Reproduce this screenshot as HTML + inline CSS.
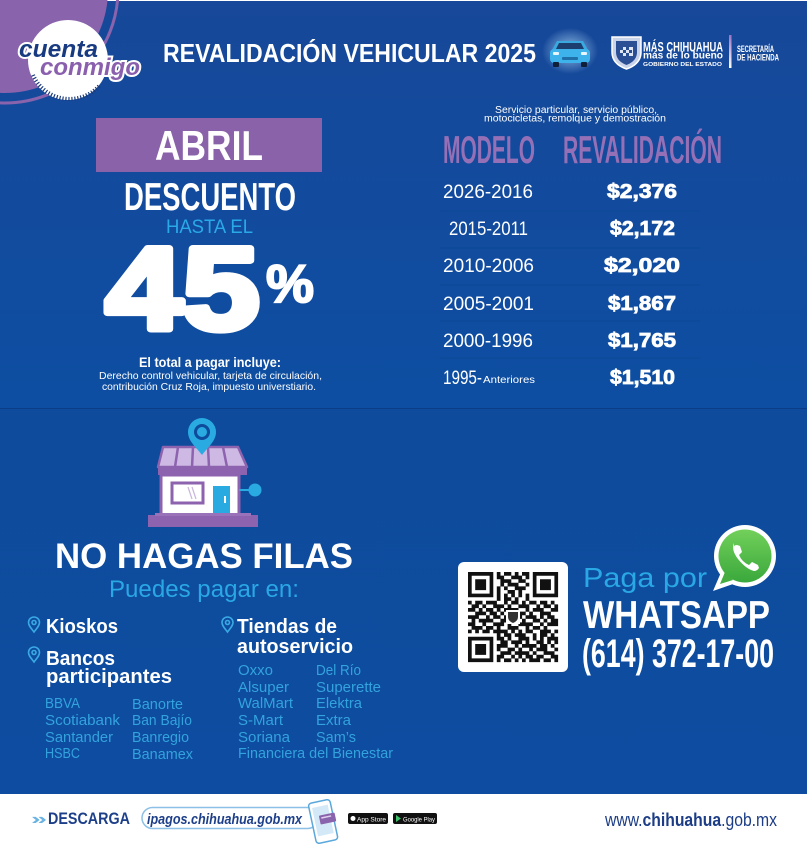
<!DOCTYPE html>
<html><head><meta charset="utf-8"><style>
html,body{margin:0;padding:0;background:#fff;}
svg{display:block;}
text{font-family:"Liberation Sans",Arial,sans-serif;}
</style></head><body>
<svg width="807" height="844" viewBox="0 0 807 844" xmlns="http://www.w3.org/2000/svg">
<defs>
<linearGradient id="topBg" x1="0" y1="0" x2="0" y2="1">
<stop offset="0" stop-color="#174899"/><stop offset="1" stop-color="#0d4ea2"/>
</linearGradient>
<linearGradient id="botBg" x1="0" y1="0" x2="0" y2="1">
<stop offset="0" stop-color="#0e4b9c"/><stop offset="1" stop-color="#0d4ca0"/>
</linearGradient>
<radialGradient id="glow" cx="0.5" cy="0.5" r="0.5">
<stop offset="0" stop-color="#bfe6ff" stop-opacity="0.75"/><stop offset="1" stop-color="#bfe6ff" stop-opacity="0"/>
</radialGradient>
<linearGradient id="wa" x1="0" y1="0" x2="0" y2="1">
<stop offset="0" stop-color="#72d05a"/><stop offset="1" stop-color="#3aa83c"/>
</linearGradient>
<linearGradient id="bar" x1="0" y1="0" x2="0" y2="1">
<stop offset="0" stop-color="#9a72c0"/><stop offset="1" stop-color="#ffffff"/>
</linearGradient>
</defs>

<rect width="807" height="844" fill="#fff"/>
<rect y="1" width="807" height="407" fill="url(#topBg)"/>
<rect y="408" width="807" height="1" fill="#0a3d86"/>
<rect y="409" width="807" height="385" fill="url(#botBg)"/>

<!-- Logo -->
<circle cx="5" cy="-10" r="103" fill="#8a63ad"/>
<circle cx="5" cy="-10" r="113" fill="none" stroke="#8a63ad" stroke-width="3"/>
<circle cx="68" cy="60" r="40" fill="#fff"/>
<path d="M33,75 A40,40 0 0 0 100,85" fill="none" stroke="#1b3a7a" stroke-width="4" stroke-dasharray="1.2 1.8"/>
<text x="19" y="57" font-size="24" font-weight="bold" font-style="italic" fill="#173a80" stroke="#fff" stroke-width="4" paint-order="stroke" textLength="79" lengthAdjust="spacingAndGlyphs">cuenta</text>
<text x="40" y="75" font-size="24" font-weight="bold" font-style="italic" fill="#8a5fad" stroke="#fff" stroke-width="4" paint-order="stroke" textLength="100" lengthAdjust="spacingAndGlyphs">conmigo</text>

<!-- Title -->
<text x="163" y="62" font-size="26" font-weight="bold" fill="#fff" textLength="373" lengthAdjust="spacingAndGlyphs">REVALIDACIÓN VEHICULAR 2025</text>

<!-- Car -->
<ellipse cx="570" cy="51" rx="28" ry="23" fill="url(#glow)"/>
<path d="M557,41 L583,41 L588,50 L552,50 Z" fill="#3aa9e0"/>
<path d="M559,43 L581,43 L584,49 L556,49 Z" fill="#1d3f70"/>
<rect x="550" y="49" width="40" height="14" rx="4" fill="#3eb2ea"/>
<rect x="553" y="52" width="6" height="3" rx="1" fill="#e8f6ff"/>
<rect x="581" y="52" width="6" height="3" rx="1" fill="#e8f6ff"/>
<rect x="562" y="57" width="16" height="3" rx="1" fill="#1f6fa8"/>
<rect x="553" y="62" width="6" height="5" rx="1" fill="#10203a"/>
<rect x="581" y="62" width="6" height="5" rx="1" fill="#10203a"/>

<!-- Gov logo -->
<path d="M612,37 L641,37 L641,52 Q641,64 626.5,69 Q612,64 612,52 Z" fill="#c9d4ea" stroke="#fff" stroke-width="1.5"/>
<path d="M616,41 L637,41 L637,52 Q637,61 626.5,65 Q616,61 616,52 Z" fill="#2b4f94"/>
<rect x="620" y="47" width="13" height="9" fill="#dfe6f3"/>
<path d="M620,47 h3v3h-3zM626,47h3v3h-3zM623,50h3v3h-3zM629,50h3v3h-3zM620,53h3v3h-3zM626,53h3v3h-3z" fill="#2b4f94"/>
<text x="643" y="51.5" font-size="14" font-weight="bold" fill="#fff" textLength="80" lengthAdjust="spacingAndGlyphs">MÁS CHIHUAHUA</text>
<text x="643" y="58.5" font-size="10" font-weight="bold" fill="#fff" textLength="80" lengthAdjust="spacingAndGlyphs">más de lo bueno</text>
<text x="643" y="66" font-size="5.5" font-weight="bold" fill="#fff" textLength="79" lengthAdjust="spacingAndGlyphs">GOBIERNO DEL ESTADO</text>
<rect x="729" y="35" width="2.5" height="33" fill="url(#bar)"/>
<text x="737" y="52" font-size="9" font-weight="bold" fill="#fff" textLength="37" lengthAdjust="spacingAndGlyphs">SECRETARÍA</text>
<text x="737" y="60.5" font-size="9" font-weight="bold" fill="#fff" textLength="42" lengthAdjust="spacingAndGlyphs">DE HACIENDA</text>

<!-- Left promo -->
<rect x="96" y="118" width="226" height="54" fill="#8a62aa"/>
<text x="155" y="160" font-size="42" font-weight="bold" fill="#fff" textLength="108" lengthAdjust="spacingAndGlyphs">ABRIL</text>
<text x="124" y="210" font-size="39" font-weight="bold" fill="#fff" textLength="172" lengthAdjust="spacingAndGlyphs">DESCUENTO</text>
<text x="166" y="233" font-size="19.5" fill="#2aa9e8" textLength="87" lengthAdjust="spacingAndGlyphs">HASTA EL</text>
<text x="105.5" y="329" font-size="117" font-weight="bold" fill="#fff" stroke="#fff" stroke-width="7" stroke-linejoin="round" textLength="154" lengthAdjust="spacingAndGlyphs">45</text>
<text x="266" y="302" font-size="53" font-weight="bold" fill="#fff" stroke="#fff" stroke-width="2" textLength="48" lengthAdjust="spacingAndGlyphs">%</text>
<text x="139" y="367" font-size="13.5" font-weight="bold" fill="#fff" textLength="142" lengthAdjust="spacingAndGlyphs">El total a pagar incluye:</text>
<text x="99" y="379" font-size="10.5" fill="#fff" textLength="223" lengthAdjust="spacingAndGlyphs">Derecho control vehicular, tarjeta de circulación,</text>
<text x="102" y="390" font-size="10.5" fill="#fff" textLength="214" lengthAdjust="spacingAndGlyphs">contribución Cruz Roja, impuesto universtiario.</text>

<!-- Right table -->
<text x="495" y="113" font-size="10" fill="#fff" textLength="162" lengthAdjust="spacingAndGlyphs">Servicio particular, servicio público,</text>
<text x="484" y="121.5" font-size="10" fill="#fff" textLength="182" lengthAdjust="spacingAndGlyphs">motocicletas, remolque y demostración</text>
<text x="443" y="163" font-size="39" font-weight="bold" fill="#9670b6" textLength="92" lengthAdjust="spacingAndGlyphs">MODELO</text>
<text x="563" y="163" font-size="39" font-weight="bold" fill="#9670b6" textLength="159" lengthAdjust="spacingAndGlyphs">REVALIDACIÓN</text>
<g stroke="#0c4896" stroke-width="1">
<line x1="440" y1="211" x2="700" y2="211"/><line x1="440" y1="248" x2="700" y2="248"/>
<line x1="440" y1="285" x2="700" y2="285"/><line x1="440" y1="321" x2="700" y2="321"/>
<line x1="440" y1="358" x2="700" y2="358"/>
</g>
<g font-size="19" fill="#fff">
<text x="443" y="198" textLength="90" lengthAdjust="spacingAndGlyphs">2026-2016</text>
<text x="449" y="235" textLength="79" lengthAdjust="spacingAndGlyphs">2015-2011</text>
<text x="443" y="272" textLength="91" lengthAdjust="spacingAndGlyphs">2010-2006</text>
<text x="443" y="310" textLength="91" lengthAdjust="spacingAndGlyphs">2005-2001</text>
<text x="443" y="347" textLength="90" lengthAdjust="spacingAndGlyphs">2000-1996</text>
<text x="443" y="384" textLength="39" lengthAdjust="spacingAndGlyphs">1995-</text>
<text x="483" y="383" font-size="10" textLength="52" lengthAdjust="spacingAndGlyphs">Anteriores</text>
</g>
<g font-size="20" font-weight="bold" fill="#fff" stroke="#fff" stroke-width="0.8">
<text x="607" y="198" textLength="70" lengthAdjust="spacingAndGlyphs">$2,376</text>
<text x="610" y="235" textLength="65" lengthAdjust="spacingAndGlyphs">$2,172</text>
<text x="604" y="272" textLength="76" lengthAdjust="spacingAndGlyphs">$2,020</text>
<text x="608" y="310" textLength="68" lengthAdjust="spacingAndGlyphs">$1,867</text>
<text x="608" y="347" textLength="68" lengthAdjust="spacingAndGlyphs">$1,765</text>
<text x="610" y="384" textLength="65" lengthAdjust="spacingAndGlyphs">$1,510</text>
</g>

<!-- Store icon -->
<path d="M163,447 L238,447 L247,467 L158,467 Z" fill="#cdb9e4" stroke="#8d62ae" stroke-width="2.5" stroke-linejoin="round"/>
<g stroke="#8d62ae" stroke-width="2.5">
<line x1="178" y1="447" x2="175" y2="467"/><line x1="193" y1="447" x2="192" y2="467"/>
<line x1="208" y1="447" x2="209" y2="467"/><line x1="223" y1="447" x2="227" y2="467"/>
</g>
<rect x="158" y="466" width="89" height="9" fill="#8d62ae"/>
<rect x="161" y="475" width="78" height="40" fill="#fff" stroke="#8d62ae" stroke-width="3"/>
<rect x="172" y="483" width="31" height="20" fill="#fff" stroke="#8d62ae" stroke-width="3"/>
<g stroke="#c8b6dc" stroke-width="1.2"><line x1="188" y1="487" x2="192" y2="499"/><line x1="192" y1="487" x2="196" y2="499"/></g>
<rect x="213" y="486" width="17" height="27" fill="#29abe2"/>
<rect x="224" y="496" width="2" height="7" fill="#fff"/>
<line x1="239" y1="490" x2="249" y2="490" stroke="#29abe2" stroke-width="2"/>
<circle cx="255" cy="490" r="6.5" fill="#29abe2"/>
<rect x="148" y="515" width="110" height="12" fill="#8d62ae"/>
<rect x="155" y="513" width="96" height="3" fill="#9a72ba"/>
<path d="M202,455 C196,447 188,441 188,432 A14,14 0 0 1 216,432 C216,441 208,447 202,455 Z" fill="#29abe2"/>
<circle cx="202" cy="432" r="8" fill="#0e4b9c"/>
<circle cx="202" cy="432" r="5" fill="#29abe2"/>

<!-- No hagas filas -->
<text x="55" y="568" font-size="35" font-weight="bold" fill="#fff" textLength="298" lengthAdjust="spacingAndGlyphs">NO HAGAS FILAS</text>
<text x="109" y="597" font-size="24" fill="#2aa8e5" textLength="190" lengthAdjust="spacingAndGlyphs">Puedes pagar en:</text>

<g fill="none" stroke="#3aa9e3" stroke-width="1.6">
<path d="M34,632 C31,628 28.5,625.5 28.5,622.5 A5.5,5.5 0 0 1 39.5,622.5 C39.5,625.5 37,628 34,632 Z"/><circle cx="34" cy="622.5" r="2"/>
<path d="M34,662 C31,658 28.5,655.5 28.5,652.5 A5.5,5.5 0 0 1 39.5,652.5 C39.5,655.5 37,658 34,662 Z"/><circle cx="34" cy="652.5" r="2"/>
<path d="M227.5,632 C224.5,628 222,625.5 222,622.5 A5.5,5.5 0 0 1 233,622.5 C233,625.5 230.5,628 227.5,632 Z"/><circle cx="227.5" cy="622.5" r="2"/>
</g>
<g font-size="20" font-weight="bold" fill="#fff">
<text x="46" y="633" textLength="72" lengthAdjust="spacingAndGlyphs">Kioskos</text>
<text x="46" y="665" textLength="69" lengthAdjust="spacingAndGlyphs">Bancos</text>
<text x="46" y="683" textLength="126" lengthAdjust="spacingAndGlyphs">participantes</text>
<text x="237" y="633" textLength="100" lengthAdjust="spacingAndGlyphs">Tiendas de</text>
<text x="237" y="653" textLength="116" lengthAdjust="spacingAndGlyphs">autoservicio</text>
</g>
<g font-size="15" fill="#33a3dd">
<text x="45" y="708" textLength="35" lengthAdjust="spacingAndGlyphs">BBVA</text>
<text x="45" y="725" textLength="75" lengthAdjust="spacingAndGlyphs">Scotiabank</text>
<text x="45" y="742" textLength="68" lengthAdjust="spacingAndGlyphs">Santander</text>
<text x="45" y="758" textLength="35" lengthAdjust="spacingAndGlyphs">HSBC</text>
<text x="132" y="709" textLength="51" lengthAdjust="spacingAndGlyphs">Banorte</text>
<text x="132" y="725" textLength="60" lengthAdjust="spacingAndGlyphs">Ban Bajío</text>
<text x="132" y="742" textLength="57" lengthAdjust="spacingAndGlyphs">Banregio</text>
<text x="132" y="759" textLength="61" lengthAdjust="spacingAndGlyphs">Banamex</text>
<text x="238" y="675" textLength="35" lengthAdjust="spacingAndGlyphs">Oxxo</text>
<text x="238" y="692" textLength="51" lengthAdjust="spacingAndGlyphs">Alsuper</text>
<text x="238" y="708" textLength="55" lengthAdjust="spacingAndGlyphs">WalMart</text>
<text x="238" y="725" textLength="45" lengthAdjust="spacingAndGlyphs">S-Mart</text>
<text x="238" y="742" textLength="52" lengthAdjust="spacingAndGlyphs">Soriana</text>
<text x="238" y="758" textLength="155" lengthAdjust="spacingAndGlyphs">Financiera del Bienestar</text>
<text x="316" y="675" textLength="45" lengthAdjust="spacingAndGlyphs">Del Río</text>
<text x="316" y="692" textLength="65" lengthAdjust="spacingAndGlyphs">Superette</text>
<text x="316" y="708" textLength="46" lengthAdjust="spacingAndGlyphs">Elektra</text>
<text x="316" y="725" textLength="35" lengthAdjust="spacingAndGlyphs">Extra</text>
<text x="316" y="742" textLength="40" lengthAdjust="spacingAndGlyphs">Sam’s</text>
</g>

<!-- QR -->
<rect x="458" y="562" width="110" height="110" rx="6" fill="#fff"/>
<path id="qr" fill="#111" d=""/>
<rect x="506" y="610" width="14" height="14" fill="#fff"/>
<path d="M508,612 h10 v5 q0,4 -5,6 q-5,-2 -5,-6 z" fill="#333"/>

<!-- WhatsApp -->
<circle cx="745" cy="556" r="31" fill="#fff"/>
<path d="M722,570 L713,591 L736,583 Z" fill="#fff"/>
<circle cx="745" cy="556" r="26.5" fill="url(#wa)"/>
<path d="M725,572 L720,584 L733,580 Z" fill="#46ad40"/>
<path d="M734,543 q-3,7 4,16 q8,10 16,12 q3,0 5,-3 l-1,-3 l-6,-3 l-3,3 q-7,-3 -10,-10 l3,-3 l-2,-6 l-3,-1 q-2,0 -3,1 z" fill="#fff"/>

<text x="583" y="587" font-size="28" fill="#2aa8e5" textLength="124" lengthAdjust="spacingAndGlyphs">Paga por</text>
<text x="583" y="628" font-size="39" font-weight="bold" fill="#fff" textLength="187" lengthAdjust="spacingAndGlyphs">WHATSAPP</text>
<text x="582" y="667" font-size="40" font-weight="bold" fill="#fff" textLength="192" lengthAdjust="spacingAndGlyphs">(614) 372-17-00</text>

<!-- Footer -->
<text x="31" y="824" font-size="16" font-weight="bold" fill="#6ab3e3" textLength="16" lengthAdjust="spacingAndGlyphs">»</text>
<text x="48" y="824" font-size="17" font-weight="bold" fill="#1d3f8a" textLength="82" lengthAdjust="spacingAndGlyphs">DESCARGA</text>
<rect x="142" y="807.5" width="176" height="21" rx="10.5" fill="#fff" stroke="#8cc0e6" stroke-width="1.5"/>
<text x="147" y="824" font-size="15" font-weight="bold" font-style="italic" fill="#1d3f8a" textLength="155" lengthAdjust="spacingAndGlyphs">ipagos.chihuahua.gob.mx</text>
<g transform="translate(323,821) rotate(-12)">
<rect x="-11" y="-20" width="22" height="41" rx="3" fill="#fff" stroke="#5aa8dc" stroke-width="1.5"/>
<rect x="-8" y="-15" width="16" height="29" fill="#d4e9f8"/>
<rect x="-3" y="-6" width="16" height="9" rx="1" fill="#8a63ad"/>
<rect x="-1" y="-4" width="10" height="1.5" fill="#e0d0ef"/>
</g>
<rect x="348" y="813" width="40" height="11" rx="2" fill="#111"/>
<circle cx="353" cy="818.5" r="2.5" fill="#fff"/>
<text x="357" y="821.5" font-size="6" fill="#fff" textLength="29" lengthAdjust="spacingAndGlyphs">App Store</text>
<rect x="393" y="813" width="44" height="11" rx="2" fill="#111"/>
<path d="M396,815 L401,818.5 L396,822 Z" fill="#3ec26a"/>
<text x="403" y="821.5" font-size="6" fill="#fff" textLength="32" lengthAdjust="spacingAndGlyphs">Google Play</text>

<text x="605" y="826" font-size="18" fill="#1c3d86" textLength="172" lengthAdjust="spacingAndGlyphs">www.<tspan font-weight="bold">chihuahua</tspan>.gob.mx</text>
</svg>
<script>
(function(){
var r=[
"1111111"+"01011010110"+"1111111",
"1000001"+"01100111010"+"1000001",
"1011101"+"00111001100"+"1011101",
"1011101"+"00101110010"+"1011101",
"1011101"+"01010011100"+"1011101",
"1000001"+"01001101000"+"1000001",
"1111111"+"01010101010"+"1111111",
"0000000"+"01011010010"+"0000000",
"1011011100101101011011010",
"0110100111010011100101101",
"1101011010111100101110011",
"0011101101000111010011100",
"1110010110111010111010110",
"0101111001101101001101011",
"1100100111010011110010111",
"0111011010011100101101000",
"1010110111101010110011101",
"00000000"+"10110111001011010",
"1111111"+"0"+"11010011101010111",
"1000001"+"0"+"01101110100110101",
"1011101"+"0"+"11100101111011010",
"1011101"+"0"+"10011010010111001",
"1011101"+"0"+"01110111101001110",
"1000001"+"0"+"11001010110110011",
"1111111"+"0"+"10110101011101101"];
var d="",s=3.6,ox=468,oy=572;
for(var y=0;y<r.length;y++){for(var x=0;x<r[y].length;x++){if(r[y][x]=="1"){d+="M"+(ox+x*s).toFixed(1)+","+(oy+y*s).toFixed(1)+"h3.7v3.7h-3.7z";}}}
document.getElementById("qr").setAttribute("d",d);
})();
</script>
</body></html>
